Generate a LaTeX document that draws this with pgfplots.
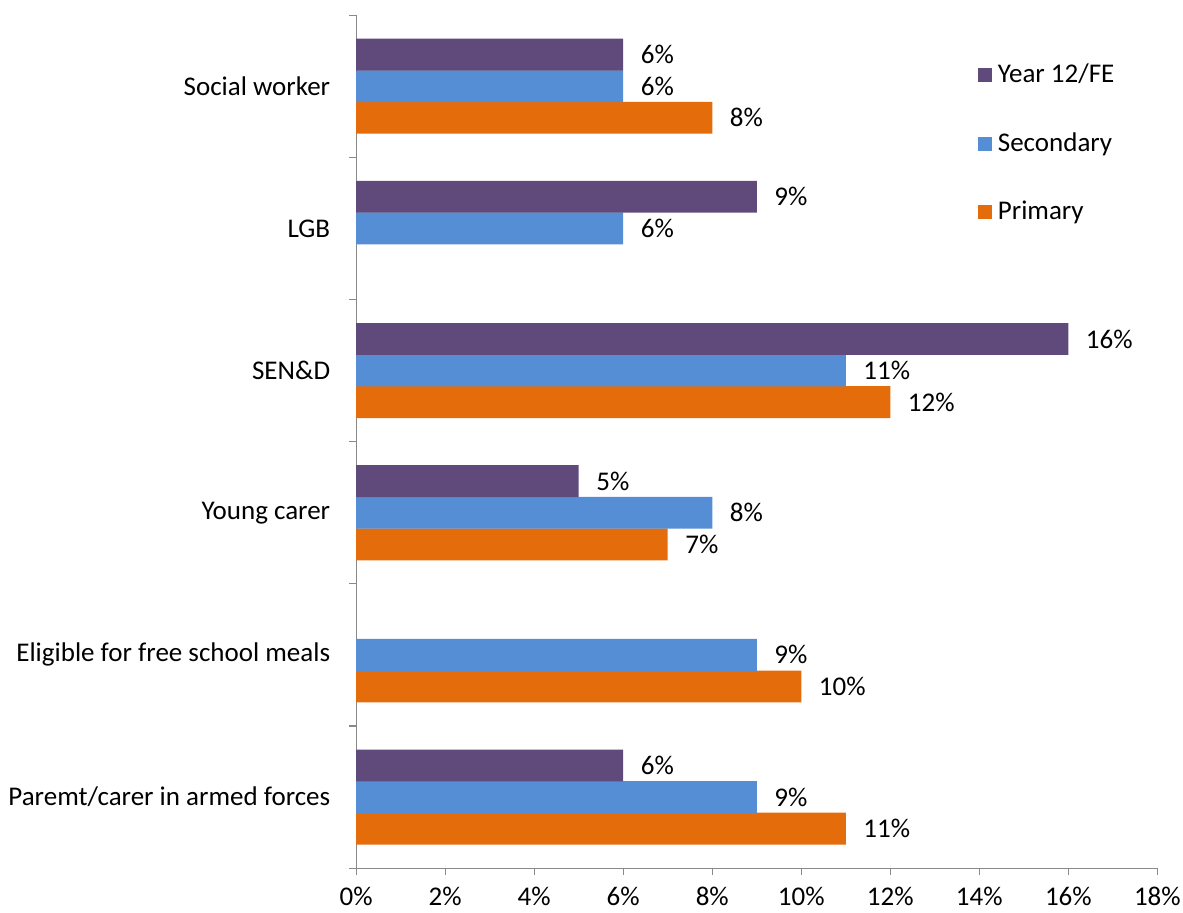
\documentclass[border=0pt]{standalone}
\usepackage{fontspec}
\setmainfont{Carlito}
\usepackage{pgfplots}
\pgfplotsset{compat=1.18}

\definecolor{cyear}{HTML}{604A7B}
\definecolor{csec}{HTML}{558ED5}
\definecolor{cpri}{HTML}{E46C0A}
\definecolor{axgray}{HTML}{898989}

\begin{document}
\begin{tikzpicture}
\begin{axis}[
    name=ax,
    scale only axis,
    width=296.7pt,
    height=315.9pt,
    xbar,
    bar width=11.8pt,
    xmin=0, xmax=18,
    ymin=-0.5, ymax=5.5,
    xtick={0,2,...,18},
    xticklabel={\pgfmathprintnumber{\tick}\%},
    /pgf/number format/assume math mode=true,
    ytick={0,...,5},
    yticklabels={Paremt/carer in armed forces, Eligible for free school meals, Young carer, SEN\&D, LGB, Social worker},
    minor ytick={-0.5,0.5,...,5.5},
    major y tick style={draw=none},
    tick align=outside,
    major tick length=2.6pt,
    minor tick length=2.6pt,
    yticklabel style={xshift=-3.5pt},
    xticklabel style={yshift=-1pt},
    axis x line*=bottom,
    axis y line*=left,
    axis line style={axgray},
    every tick/.style={axgray},
    tick label style={font=\fontsize{10}{12}\selectfont, black},
    nodes near coords={\pgfmathprintnumber{\pgfplotspointmeta}\%},
    nodes near coords align={horizontal},
    every node near coord/.append style={font=\fontsize{10}{12}\selectfont, black, xshift=3pt},
    reverse legend,
    legend style={draw=none, at={(0.776,0.950)}, anchor=north west, font=\fontsize{10}{12}\selectfont, row sep=13.0pt, inner sep=0pt},
    legend cell align=left,
    legend image code/.code={\fill[#1, draw=none] (0pt,-2.6pt) rectangle (5.2pt,2.6pt);},
]
\addplot[fill=cpri, draw=none, bar shift=-11.7pt] coordinates {(11,0) (10,1) (7,2) (12,3) (8,5)};
\addplot[fill=csec, draw=none, bar shift=0pt] coordinates {(9,0) (9,1) (8,2) (11,3) (6,4) (6,5)};
\addplot[fill=cyear, draw=none, bar shift=11.7pt] coordinates {(6,0) (5,2) (16,3) (9,4) (6,5)};
\legend{Primary, Secondary, Year 12/FE}
\end{axis}
\pgfresetboundingbox
\path (ax.south west) ++(-131.9pt,-16.3pt) rectangle ++(438.1pt,337.8pt);
\end{tikzpicture}
\end{document}
